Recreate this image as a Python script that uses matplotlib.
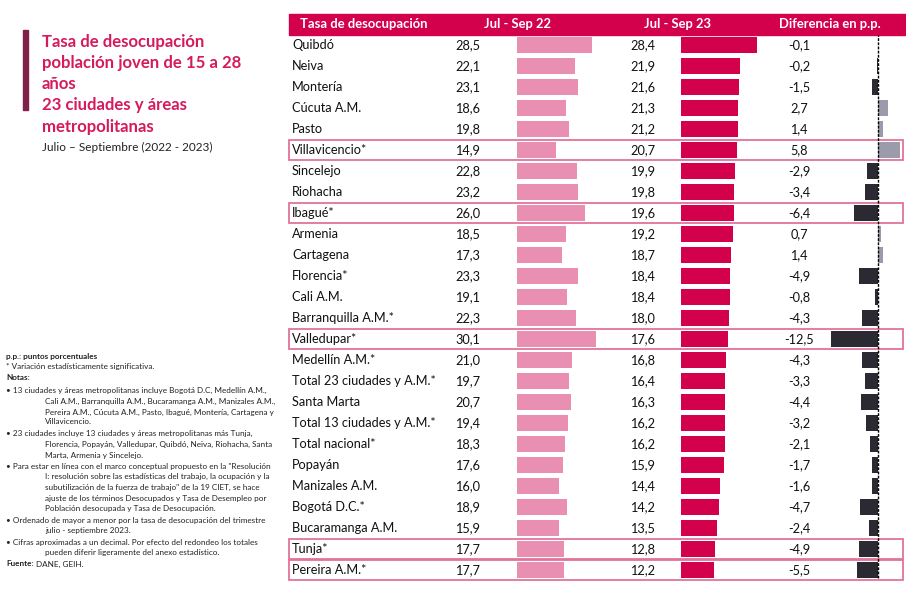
import matplotlib
matplotlib.use("Agg")
import matplotlib.pyplot as plt
from matplotlib.patches import Rectangle

cities = ["Quibdó", "Neiva", "Montería", "Cúcuta A.M.", "Pasto", "Villavicencio*",
          "Sincelejo", "Riohacha", "Ibagué*", "Armenia", "Cartagena", "Florencia*",
          "Cali A.M.", "Barranquilla A.M.*", "Valledupar*", "Medellín A.M.*",
          "Total 23 ciudades y A.M.*", "Santa Marta", "Total 13 ciudades y A.M.*",
          "Total nacional*", "Popayán", "Manizales A.M.", "Bogotá D.C.*",
          "Bucaramanga A.M.", "Tunja*", "Pereira A.M.*"]
v2022 = [28.5, 22.1, 23.1, 18.6, 19.8, 14.9, 22.8, 23.2, 26.0, 18.5, 17.3, 23.3,
         19.1, 22.3, 30.1, 21.0, 19.7, 20.7, 19.4, 18.3, 17.6, 16.0, 18.9, 15.9, 17.7, 17.7]
v2023 = [28.4, 21.9, 21.6, 21.3, 21.2, 20.7, 19.9, 19.8, 19.6, 19.2, 18.7, 18.4,
         18.4, 18.0, 17.6, 16.8, 16.4, 16.3, 16.2, 16.2, 15.9, 14.4, 14.2, 13.5, 12.8, 12.2]
diff = [-0.1, -0.2, -1.5, 2.7, 1.4, 5.8, -2.9, -3.4, -6.4, 0.7, 1.4, -4.9,
        -0.8, -4.3, -12.5, -4.3, -3.3, -4.4, -3.2, -2.1, -1.7, -1.6, -4.7, -2.4, -4.9, -5.5]
highlight = ["Villavicencio*", "Ibagué*", "Valledupar*", "Tunja*", "Pereira A.M.*"]

header = ["Tasa de desocupación", "Jul - Sep 22", "Jul - Sep 23", "Diferencia en p.p."]
title_lines = ["Tasa de desocupación", "población joven de 15 a 28", "años",
               "23 ciudades y áreas", "metropolitanas"]
subtitle = "Julio – Septiembre (2022 - 2023)"

plt.rcParams['font.family'] = ['Lato', 'DejaVu Sans']

W, H = 906, 604
fig = plt.figure(figsize=(W / 100, H / 100), dpi=100)
fig.patch.set_facecolor("white")

def fx(px):
    return px / W

def fy(py):
    return 1 - py / H

n = len(cities)
top_px, bot_px = 34.5, 580.5

CRIMSON = "#d3004c"
PINK = "#e98fb2"
DARK = "#2b2931"
GRAY = "#9c9bab"
TITLE = "#d51a5d"
FS = 9.2

ax = fig.add_axes([fx(285), fy(bot_px), fx(906) - fx(285), (bot_px - top_px) / H])
ax.set_xlim(285, 906)
ax.set_ylim(n - 0.5, -0.5)
ax.axis("off")

for i, (c, a, b, d) in enumerate(zip(cities, v2022, v2023, diff)):
    ax.text(292, i, c, va="center", ha="left", fontsize=FS, color="#111111")
    ax.text(455, i, f"{a:.1f}".replace(".", ","), va="center", ha="left", fontsize=FS, color="#111111")
    ax.text(630, i, f"{b:.1f}".replace(".", ","), va="center", ha="left", fontsize=FS, color="#111111")
    ax.text(799, i, f"{d:.1f}".replace(".", ","), va="center", ha="center", fontsize=FS, color="#111111")
    if c in highlight:
        ax.add_patch(Rectangle((289, i - 0.47), 614, 0.94, fill=False,
                               edgecolor="#e27398", lw=1.3, zorder=5, clip_on=False))

a1 = fig.add_axes([fx(517), fy(bot_px), 110 / W, (bot_px - top_px) / H])
a1.barh(range(n), v2022, height=0.78, color=PINK)
a1.set_xlim(0, 110 / 2.63)
a1.set_ylim(n - 0.5, -0.5)
a1.axis("off")

a2 = fig.add_axes([fx(681), fy(bot_px), 110 / W, (bot_px - top_px) / H])
a2.barh(range(n), v2023, height=0.78, color=CRIMSON)
a2.set_xlim(0, 110 / 2.69)
a2.set_ylim(n - 0.5, -0.5)
a2.axis("off")

a3 = fig.add_axes([fx(826), fy(bot_px), 80 / W, (bot_px - top_px) / H])
a3.barh(range(n), diff, height=0.78, color=[GRAY if d > 0 else DARK for d in diff])
a3.set_xlim(-52 / 3.8, 28 / 3.8)
a3.set_ylim(n - 0.5, -0.5)
a3.axvline(0, color="black", lw=1.0, linestyle=(0, (2, 1)), ymin=0.005, ymax=1.0)
a3.axis("off")

fig.add_artist(Rectangle((fx(289), fy(35)), (906 - 289) / W, 21 / H,
                         transform=fig.transFigure, color=CRIMSON, zorder=0))
hy = fy(24)
fig.text(fx(300), hy, header[0], ha="left", va="center", color="white", fontsize=9.4, fontweight="bold")
fig.text(fx(517), hy, header[1], ha="center", va="center", color="white", fontsize=9.4, fontweight="bold")
fig.text(fx(677), hy, header[2], ha="center", va="center", color="white", fontsize=9.4, fontweight="bold")
fig.text(fx(830), hy, header[3], ha="center", va="center", color="white", fontsize=9.4, fontweight="bold")

fig.add_artist(Rectangle((fx(23), fy(110)), 5 / W, 80 / H, transform=fig.transFigure,
                         color="#7e2249"))
ty = [42, 63, 84, 105, 127]
for t, y in zip(title_lines, ty):
    fig.text(fx(42), fy(y), t, ha="left", va="center", color=TITLE, fontsize=12.1, fontweight="bold")
fig.text(fx(42), fy(147), subtitle, ha="left", va="center", color="#222222", fontsize=8.5)

notes = [
    (6, 357, "p.p.: puntos porcentuales", True),
    (6, 367, "* Variación estadísticamente significativa.", False),
    (6, 378, "Notas:", True),
    (6, 390, "• 13 ciudades y áreas metropolitanas incluye Bogotá D.C, Medellín A.M.,", False),
    (45, 401, "Cali A.M., Barranquilla A.M., Bucaramanga A.M., Manizales A.M.,", False),
    (45, 412, "Pereira A.M., Cúcuta A.M., Pasto, Ibagué, Montería, Cartagena y", False),
    (45, 422, "Villavicencio.", False),
    (6, 433, "• 23 ciudades incluye 13 ciudades y áreas metropolitanas más Tunja,", False),
    (45, 444, "Florencia, Popayán, Valledupar, Quibdó, Neiva, Riohacha, Santa", False),
    (45, 455, "Marta, Armenia y Sincelejo.", False),
    (6, 466, "• Para estar en línea con el marco conceptual propuesto en la \"Resolución", False),
    (45, 476, "I: resolución sobre las estadísticas del trabajo, la ocupación y la", False),
    (45, 487, "subutilización de la fuerza de trabajo\" de la 19 CIET, se hace", False),
    (45, 498, "ajuste de los términos Desocupados y Tasa de Desempleo por", False),
    (45, 508, "Población desocupada y Tasa de Desocupación.", False),
    (6, 520, "• Ordenado de mayor a menor por la tasa de desocupación del trimestre", False),
    (45, 531, "julio - septiembre 2023.", False),
    (6, 542, "• Cifras aproximadas a un decimal. Por efecto del redondeo los totales", False),
    (45, 553, "pueden diferir ligeramente del anexo estadístico.", False),
]
for x, y, t, b in notes:
    fig.text(fx(x), fy(y), t, ha="left", va="center", fontsize=5.85, color="#222222",
             fontweight="bold" if b else "normal")
fig.text(fx(6), fy(564), "Fuente:", ha="left", va="center", fontsize=5.85, fontweight="bold", color="#222222")
fig.text(fx(36), fy(564), "DANE, GEIH.", ha="left", va="center", fontsize=5.85, color="#222222")

fig.savefig("out.png", dpi=100)
